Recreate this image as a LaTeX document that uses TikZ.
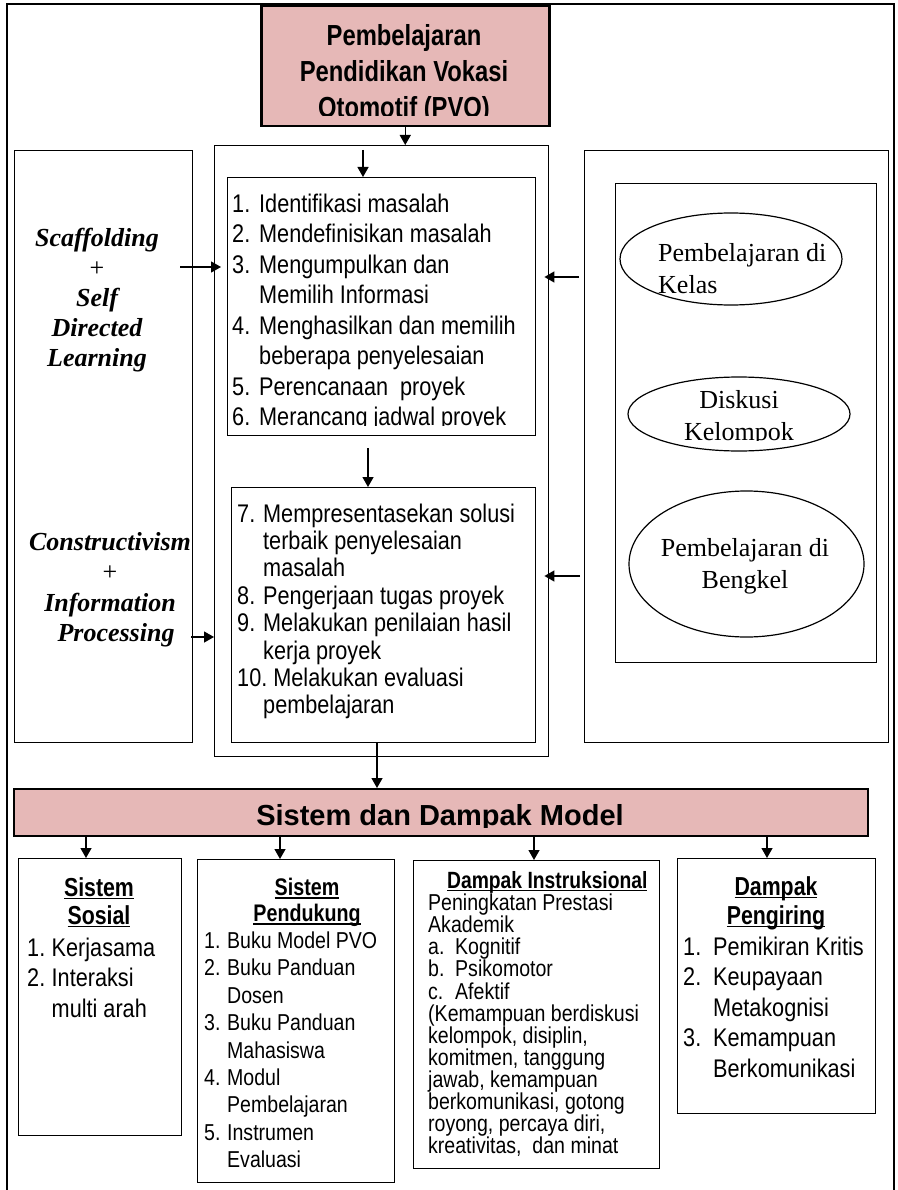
\documentclass[tikz,border=0pt]{standalone}
\usepackage{fontspec}
\setmainfont{Liberation Serif}
\newfontfamily\nar{Liberation Sans}[FakeStretch=0.85]
\newfontfamily\narb{Liberation Sans}[FakeStretch=0.82]
\newfontfamily\ars{Liberation Sans}
\usetikzlibrary{arrows.meta,shapes.geometric}
\definecolor{pinkfill}{RGB}{230,184,183}
\newcommand{\setfs}[2]{\fontsize{#1pt}{#2pt}\selectfont}
\newcommand{\uln}[1]{\setbox0=\hbox{#1}\rlap{\rule[-2.8pt]{\wd0}{1.7pt}}\box0}
\newcommand{\nb}[2]{\makebox[#1pt][l]{#2}}
\begin{document}
\begin{tikzpicture}[x=1pt,y=-1pt,
  box/.style={draw, line width=1.4pt, inner sep=0pt, anchor=north west},
  txt/.style={inner sep=0pt, align=left, anchor=north west},
  ctxt/.style={inner sep=0pt, align=center, anchor=north},
  arr/.style={line width=1.3pt, -{Triangle[length=10pt,width=11pt]}},
  ell/.style={draw, ellipse, line width=1.2pt, inner sep=0pt}]
\useasboundingbox (0,0) rectangle (897,1190);
\fill[white] (0,0) rectangle (897,1190);
\draw[line width=2pt] (7,1195) -- (7,4) -- (894,4) -- (894,1195);

% title
\node[box, fill=pinkfill, line width=2.5pt, minimum width=288pt, minimum height=120pt] (title) at (260,5) {};
\begin{scope}
\clip (262,6) rectangle (546,116);
\node[ctxt, font=\narb\bfseries\setfs{29}{36}] (titletxt) at (404,20.2) {\strut Pembelajaran\\Pendidikan Vokasi\\Otomotif (PVO)};
\end{scope}

% main boxes
\node[box, minimum width=178pt, minimum height=592pt] (lbox) at (14,150) {};
\node[box, minimum width=334pt, minimum height=611pt] (mid) at (214,145) {};
\node[box, minimum width=304pt, minimum height=592pt] (rbox) at (584,150) {};
\node[box, minimum width=261pt, minimum height=479pt] (rin) at (615,183) {};
\node[box, minimum width=308pt, minimum height=258pt] (b1) at (227,177) {};
\node[box, minimum width=304pt, minimum height=255pt] (b2) at (231,487) {};

% left texts
\node[ctxt, font=\bfseries\itshape\setfs{26}{30}] (scaf) at (97,225) {\strut Scaffolding\\{\normalfont +}\\Self\\Directed\\Learning};
\node[ctxt, font=\bfseries\itshape\setfs{26}{30.5}] (cons) at (110,528.7) {\strut Constructivism\\{\normalfont +}\\Information\\\hspace*{12pt}Processing};

% steps
\begin{scope}
\clip (229,179) rectangle (533,425);
\node[txt, font=\nar\setfs{25.5}{30.5}] (t1) at (232,190.6) {\strut\nb{27}{1.}Identifikasi masalah\\
\nb{27}{2.}Mendefinisikan masalah\\
\nb{27}{3.}Mengumpulkan dan\\
\hspace*{27pt}Memilih Informasi\\
\nb{27}{4.}Menghasilkan dan memilih\\
\hspace*{27pt}beberapa penyelesaian\\
\nb{27}{5.}Perencanaan\ \ proyek\\
\nb{27}{6.}Merancang jadwal proyek};
\end{scope}
\node[txt, font=\nar\setfs{25.5}{27.4}] (t2) at (237,502.8) {\strut\nb{26}{7.}Mempresentasekan solusi\\
\hspace*{26pt}terbaik penyelesaian\\
\hspace*{26pt}masalah\\
\nb{26}{8.}Pengerjaan tugas proyek\\
\nb{26}{9.}Melakukan penilaian hasil\\
\hspace*{26pt}kerja proyek\\
10.\ Melakukan evaluasi\\
\hspace*{26pt}pembelajaran};

% ellipses
\node[ell, minimum width=222pt, minimum height=92pt] (e1) at (731,259) {};
\node[ell, minimum width=222pt, minimum height=74pt] (e2) at (739,414) {};
\node[ell, minimum width=235pt, minimum height=146pt] (e3) at (746.5,564) {};
\node[txt, font=\setfs{26}{32}] (e1t) at (658,239.1) {\strut Pembelajaran di\\Kelas};
\begin{scope}
\clip (620,370) rectangle (860,440);
\node[ctxt, font=\setfs{26}{32}] (e2t) at (739,385.6) {\strut Diskusi\\Kelompok};
\end{scope}
\node[ctxt, font=\setfs{26}{32}] (e3t) at (745,534.3) {\strut Pembelajaran di\\Bengkel};

% arrows upper part
\draw[arr] (title.south) -- (title.south |- mid.north);
\coordinate (m1) at (363,150);
\draw[arr] (m1) -- (m1 |- b1.north);
\coordinate (l1) at (180,267);
\draw[arr, shorten >=6pt] (l1) -- (l1 -| b1.west);
\coordinate (r1) at (579,277);
\draw[arr, shorten >=8pt] (r1) -- (r1 -| b1.east);
\coordinate (m2) at (368,448);
\draw[arr] (m2) -- (m2 |- b2.north);
\coordinate (l2) at (191,637);
\draw[arr] (l2) -- (l2 -| mid.west);
\coordinate (r2) at (580,576);
\draw[arr, shorten >=8pt] (r2) -- (r2 -| b2.east);

% bar
\node[box, fill=pinkfill, line width=2pt, minimum width=854pt, minimum height=47pt] (bar) at (13,788) {};
\begin{scope}
\clip (15,790) rectangle (865,827);
\node[anchor=base, inner sep=0pt, font=\ars\bfseries\setfs{29}{34}] (bartxt) at (440,825) {Sistem dan Dampak Model};
\end{scope}
\coordinate (m3) at (377,742);
\draw[arr] (m3) -- (m3 |- bar.north);

% bottom boxes
\node[box, minimum width=163pt, minimum height=277pt] (sos) at (18,858) {};
\node[box, minimum width=197pt, minimum height=323pt] (pend) at (197,859) {};
\node[box, minimum width=246pt, minimum height=308pt] (instr) at (413,860) {};
\node[box, minimum width=198pt, minimum height=255pt] (peng) at (677,858) {};

\coordinate (d1) at (86,835);
\coordinate (d2) at (280,835);
\coordinate (d3) at (534,835);
\coordinate (d4) at (767,835);
\draw[arr] (d1) -- (d1 |- sos.north);
\draw[arr] (d2) -- (d2 |- pend.north);
\draw[arr] (d3) -- (d3 |- instr.north);
\draw[arr] (d4) -- (d4 |- peng.north);

% Sistem Sosial
\node[ctxt, font=\narb\bfseries\setfs{26}{28}] (sosh) at (99,876.8) {\strut\uln{Sistem}\\\uln{Sosial}};
\node[txt, font=\nar\setfs{25.5}{30.5}] (sost) at (27,934.8) {\strut\nb{24.5}{1.}Kerjasama\\
\nb{24.5}{2.}Interaksi\\
\hspace*{24.5pt}multi arah};

% Sistem Pendukung
\node[ctxt, font=\narb\bfseries\setfs{24}{26}] (pendh) at (307,877.4) {\strut\uln{Sistem}\\\uln{Pendukung}};
\node[txt, font=\nar\setfs{23}{27.4}] (pendt) at (204,929.1) {\strut\nb{23}{1.}Buku Model PVO\\
\nb{23}{2.}Buku Panduan\\
\hspace*{23pt}Dosen\\
\nb{23}{3.}Buku Panduan\\
\hspace*{23pt}Mahasiswa\\
\nb{23}{4.}Modul\\
\hspace*{23pt}Pembelajaran\\
\nb{23}{5.}Instrumen\\
\hspace*{23pt}Evaluasi};

% Dampak Instruksional
\node[anchor=base west, inner sep=0pt, font=\narb\bfseries\setfs{23.5}{26}] (instrh) at (447,888.5) {\uln{Dampak Instruksional}};
\node[txt, font=\nar\setfs{23}{22.1}] (instrt) at (428,893.8) {Peningkatan Prestasi\\
Akademik\\
\nb{27}{a.}Kognitif\\
\nb{27}{b.}Psikomotor\\
\nb{27}{c.}Afektif\\
(Kemampuan berdiskusi\\
kelompok, disiplin,\\
komitmen, tanggung\\
jawab, kemampuan\\
berkomunikasi, gotong\\
royong, percaya diri,\\
kreativitas,\ \ dan minat};

% Dampak Pengiring
\node[ctxt, font=\narb\bfseries\setfs{26}{29}] (pengh) at (776,875.1) {\strut\uln{Dampak}\\\uln{Pengiring}};
\node[txt, font=\nar\setfs{25.5}{30.5}] (pengt) at (683,933.85) {\strut\nb{30}{1.}Pemikiran Kritis\\
\nb{30}{2.}Keupayaan\\
\hspace*{30pt}Metakognisi\\
\nb{30}{3.}Kemampuan\\
\hspace*{30pt}Berkomunikasi};
\end{tikzpicture}
\end{document}
